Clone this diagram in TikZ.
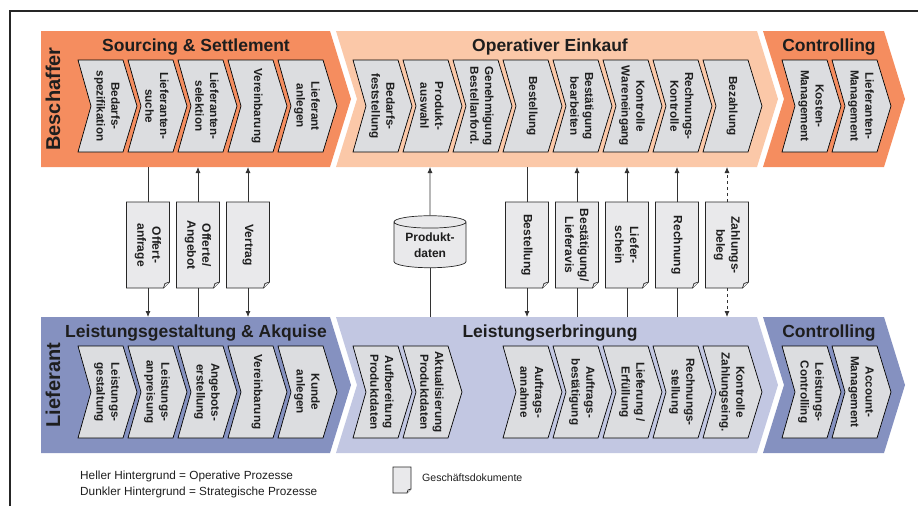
\documentclass[tikz,border=0pt]{standalone}
\usepackage{fontspec}
\setmainfont{Liberation Sans}
\usetikzlibrary{arrows.meta,shapes.geometric}

\definecolor{orDark}{HTML}{F58D5F}
\definecolor{orLight}{HTML}{FBC8A8}
\definecolor{blDark}{HTML}{8591C0}
\definecolor{blLight}{HTML}{C2C7E2}
\definecolor{boxGray}{HTML}{DCDDE0}
\definecolor{docGray}{HTML}{E9E9EB}
\definecolor{lineGray}{HTML}{333333}
\definecolor{txt}{HTML}{1E1E1E}

\newcommand\pstep[4]{%
  \draw[pbox] (#2,#3) -- ++(45,0) -- ++(14,46) -- ++(-14,46) -- ++(-45,0) -- ++(13,-46) -- cycle;
  \node[ptext] (#1) at (#2+29,#3+46) {#4};
}
\newcommand\docoutline[2]{%
  \draw[docdraw] (#1.north west) -- (#1.north east) -- ([yshift=#2]#1.south east) -- ([xshift=-#2]#1.south east) -- (#1.south west) -- cycle;
  \draw[docdraw] ([xshift=-#2]#1.south east) -- ([xshift=-0.75*#2,yshift=0.75*#2]#1.south east) -- ([yshift=#2]#1.south east);
}
\newcommand\docnode[3]{%
  \node[docbox] (#1) at (#2,245) {};
  \docoutline{#1}{6pt}
  \node[doctext] (#1t) at (#1) {#3};
}

\begin{document}
\begin{tikzpicture}[x=1pt,y=-1pt,
  pbox/.style={draw=black, line width=0.7pt, fill=boxGray, line join=miter},
  ptext/.style={rotate=-90, align=center, font=\fontsize{11.7}{14.8}\selectfont\bfseries, text=txt, inner sep=0pt},
  blocktitle/.style={font=\fontsize{17.5}{20}\selectfont\bfseries, text=txt},
  sidetitle/.style={rotate=90, font=\fontsize{20}{24}\selectfont\bfseries, text=txt},
  docbox/.style={minimum width=43pt, minimum height=86pt, inner sep=0pt, outer sep=0pt},
  docdraw/.style={draw=black!85, line width=0.7pt, fill=docGray, line join=miter},
  doctext/.style={rotate=-90, align=center, font=\fontsize{12}{15}\selectfont\bfseries, text=txt, inner sep=0pt},
  conn/.style={draw=lineGray, line width=0.8pt},
  tip/.style={-{Latex[length=6pt,width=5pt]}},
  legtext/.style={font=\fontsize{11.8}{14}\selectfont, text=txt, anchor=west, inner sep=0pt}
]
\useasboundingbox (0,0) rectangle (918,506);

% frame
\draw[line width=1.1pt, black!85] (10,506) -- (10,11) -- (918,11);

% top bands
\fill[orDark] (41,31) -- (330,31) -- (351,99) -- (330,167) -- (41,167) -- cycle;
\fill[orLight] (336,31) -- (757,31) -- (778,99) -- (757,167) -- (336,167) -- (357,99) -- cycle;
\fill[orDark] (763,31) -- (884,31) -- (905,99) -- (884,167) -- (763,167) -- (784,99) -- cycle;
% bottom bands
\fill[blDark] (41,317) -- (330,317) -- (351,385) -- (330,453) -- (41,453) -- cycle;
\fill[blLight] (336,317) -- (757,317) -- (778,385) -- (757,453) -- (336,453) -- (357,385) -- cycle;
\fill[blDark] (763,317) -- (884,317) -- (905,385) -- (884,453) -- (763,453) -- (784,385) -- cycle;

% side titles
\node[sidetitle] (beschaffer) at (53,99) {Beschaffer};
\node[sidetitle] (lieferant) at (53,385) {Lieferant};

% block titles
\node[blocktitle] (tSS) at (196,47) {Sourcing \& Settlement};
\node[blocktitle] (tOE) at (550,47) {Operativer Einkauf};
\node[blocktitle] (tC1) at (829,47) {Controlling};
\node[blocktitle] (tLA) at (196,333) {Leistungsgestaltung \& Akquise};
\node[blocktitle] (tLE) at (550,333) {Leistungserbringung};
\node[blocktitle] (tC2) at (829,333) {Controlling};

% top process steps
\pstep{a1}{78}{60}{Bedarfs-\\spezifikation}
\pstep{a2}{128}{60}{Lieferanten-\\suche}
\pstep{a3}{178}{60}{Lieferanten-\\selektion}
\pstep{a4}{228}{60}{Vereinbarung}
\pstep{a5}{278}{60}{Lieferant\\anlegen}
\pstep{b1}{353}{60}{Bedarfs-\\feststellung}
\pstep{b2}{403}{60}{Produkt-\\auswahl}
\pstep{b3}{453}{60}{Genehmigung\\Bestellanford.}
\pstep{b4}{503}{60}{Bestellung}
\pstep{b5}{553}{60}{Bestätigung\\bearbeiten}
\pstep{b6}{603}{60}{Kontrolle\\Wareneingang}
\pstep{b7}{653}{60}{Rechnungs-\\Kontrolle}
\pstep{b8}{703}{60}{Bezahlung}
\pstep{c1}{782}{60}{Kosten-\\Management}
\pstep{c2}{832}{60}{Lieferanten-\\Management}

% bottom process steps
\pstep{p1}{78}{346}{Leistungs-\\gestaltung}
\pstep{p2}{128}{346}{Leistungs-\\anpreisung}
\pstep{p3}{178}{346}{Angebots-\\erstellung}
\pstep{p4}{228}{346}{Vereinbarung}
\pstep{p5}{278}{346}{Kunde\\anlegen}
\pstep{q1}{353}{346}{Aufbereitung\\Produktdaten}
\pstep{q2}{403}{346}{Aktualisierung\\Produktdaten}
\pstep{q3}{503}{346}{Auftrags-\\annahme}
\pstep{q4}{553}{346}{Auftrags-\\bestätigung}
\pstep{q5}{603}{346}{Lieferung /\\Erfüllung}
\pstep{q6}{653}{346}{Rechnungs-\\stellung}
\pstep{q7}{703}{346}{Kontrolle\\Zahlungseing.}
\pstep{r1}{782}{346}{Leistungs-\\Controlling}
\pstep{r2}{832}{346}{Account-\\Management}

% documents
\docnode{d1}{148}{Offert-\\anfrage}
\docnode{d2}{198}{Offerte/\\Angebot}
\docnode{d3}{248}{Vertrag}
\docnode{d4}{527}{Bestellung}
\docnode{d5}{577}{Bestätigung/\\Lieferavis}
\docnode{d6}{627}{Liefer-\\schein}
\docnode{d7}{677}{Rechnung}
\docnode{d8}{727}{Zahlungs-\\beleg}

% database
\node[cylinder, shape border rotate=90, aspect=0.25, draw=black!85, line width=0.7pt, fill=docGray,
      minimum width=72pt, minimum height=52pt, inner sep=0pt, align=center,
      font=\fontsize{12}{15.5}\selectfont\bfseries, text=txt] (db) at (430,245) {Produkt-\\daten};

% band edge coordinates
\foreach \n/\x in {1/148,2/198,3/248,4/527,5/577,6/627,7/677,8/727,9/430}{
  \coordinate (t\n) at (\x,167);
  \coordinate (b\n) at (\x,317);
}

% connectors
\draw[conn] (t1) -- (d1.north);
\draw[conn,tip] (d1.south) -- (b1);
\draw[conn,tip] (d2.north) -- (t2);
\draw[conn] (b2) -- (d2.south);
\draw[conn,tip] (d3.north) -- (t3);
\draw[conn,tip] (d3.south) -- (b3);
\draw[conn,tip] (db.north) -- (t9);
\draw[conn] (b9) -- (db.south);
\draw[conn] (t4) -- (d4.north);
\draw[conn,tip] (d4.south) -- (b4);
\draw[conn,tip] (d5.north) -- (t5);
\draw[conn] (b5) -- (d5.south);
\draw[conn,tip] (d6.north) -- (t6);
\draw[conn] (b6) -- (d6.south);
\draw[conn,tip] (d7.north) -- (t7);
\draw[conn] (b7) -- (d7.south);
\draw[conn,tip,dashed] (d8.north) -- (t8);
\draw[conn,tip,dashed] (d8.south) -- (b8);

% legend
\node[legtext] (leg1) at (80,476) {Heller Hintergrund = Operative Prozesse};
\node[legtext] (leg2) at (80,492) {Dunkler Hintergrund = Strategische Prozesse};
\node[docbox, minimum width=18pt, minimum height=26pt] (legdoc) at (402,480) {};
\docoutline{legdoc}{4pt}
\node[legtext, font=\fontsize{10.6}{13}\selectfont] (leg3) at (422,478) {Geschäftsdokumente};
\end{tikzpicture}
\end{document}
